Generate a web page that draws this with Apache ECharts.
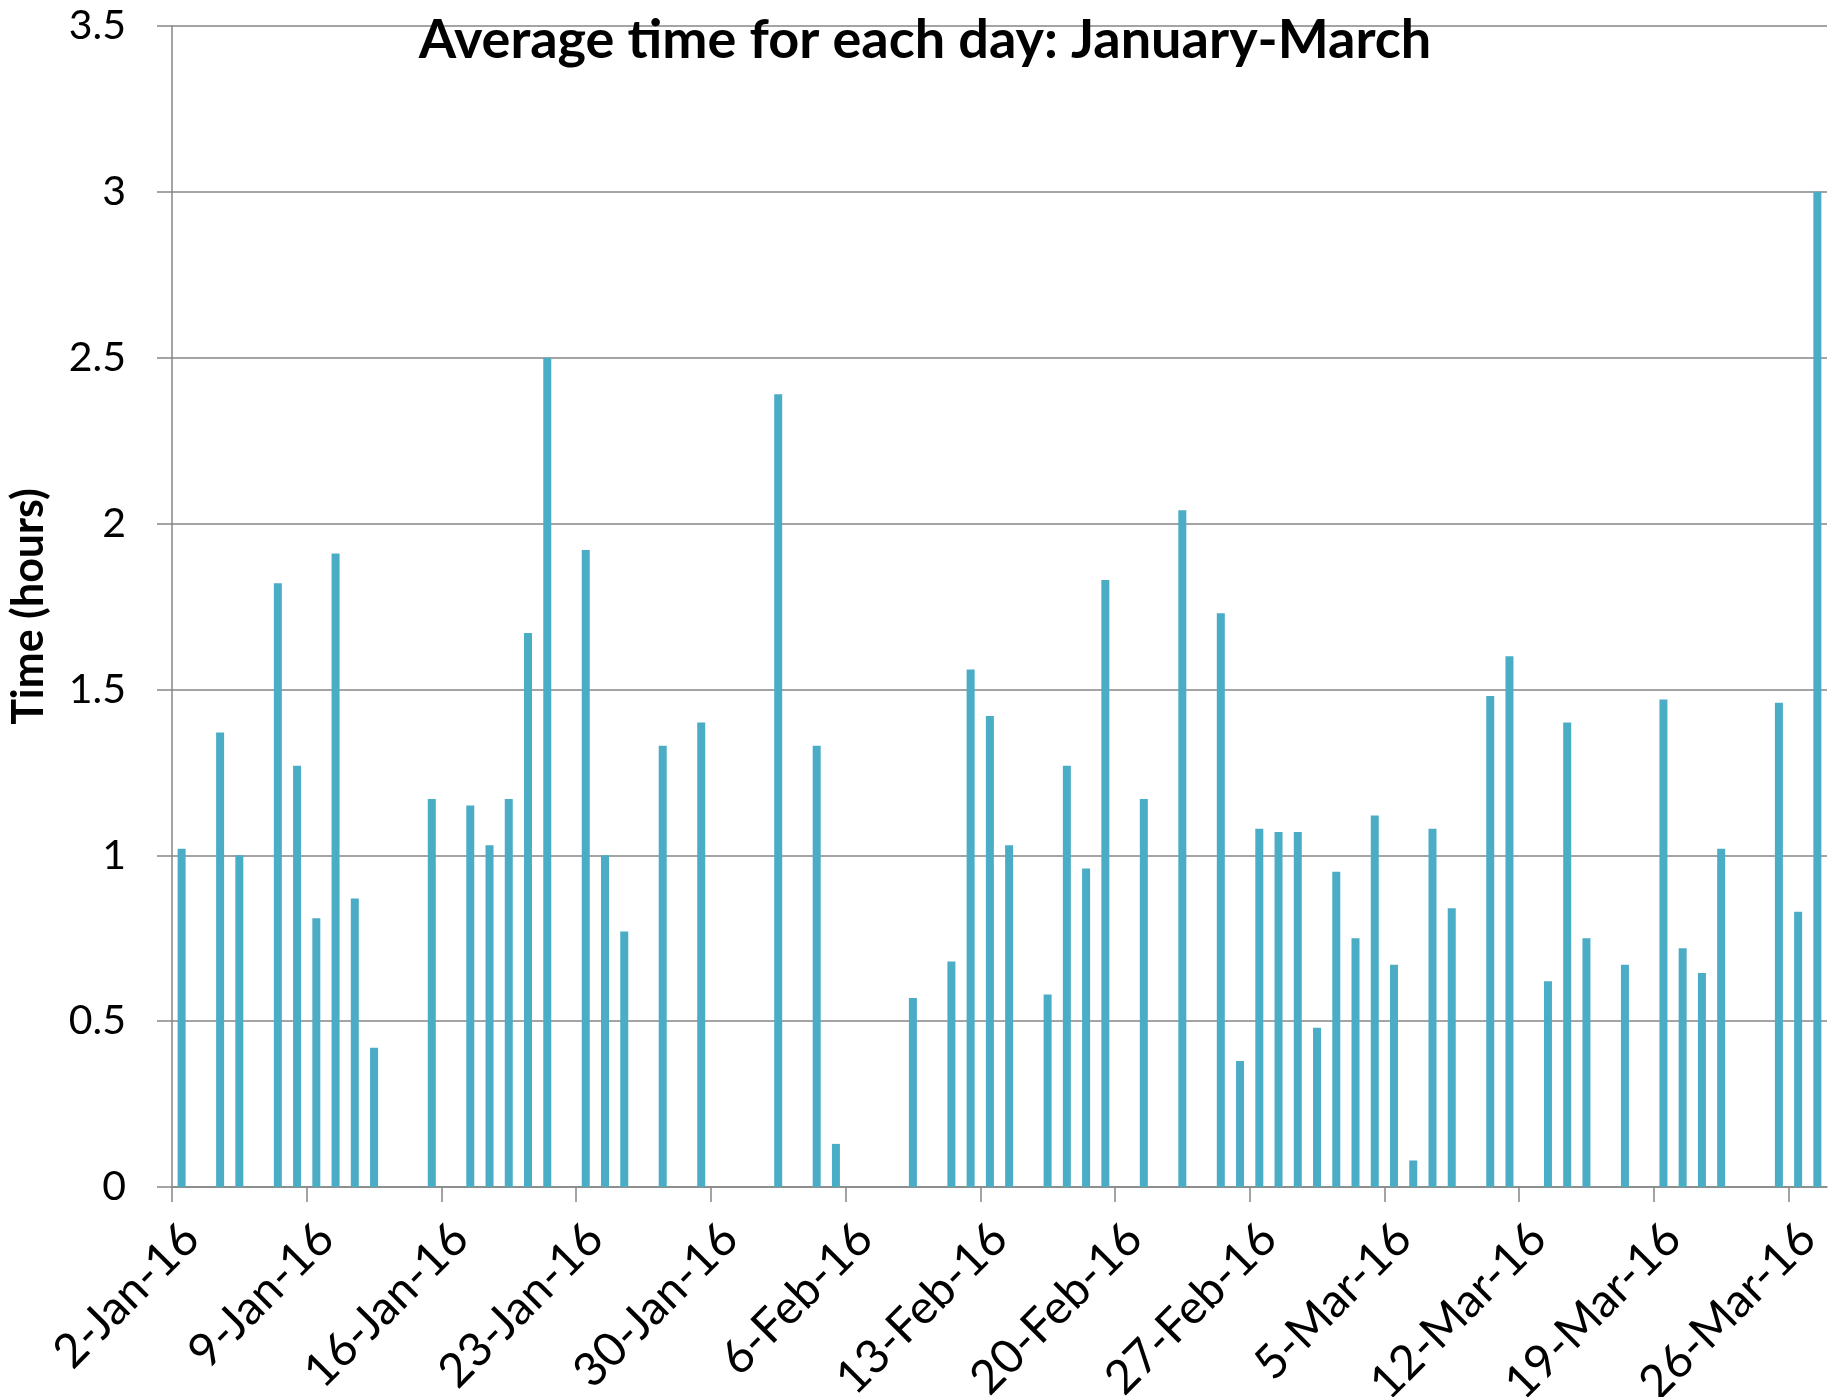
<!DOCTYPE html>
<html><head><meta charset="utf-8">
<script src="https://cdn.jsdelivr.net/npm/echarts@6/dist/echarts.min.js"></script>
<style>html,body{margin:0;padding:0;background:#fff}#c{width:1845px;height:1397px}</style>
</head><body><div id="c"></div>
<script>
const titleText = 'Average time for each day: January-March';
const yAxisName = 'Time (hours)';
const axisStart = '2-Jan-16';
const axisEnd = '28-Mar-16';
const dates = ['2-Jan-16','4-Jan-16','5-Jan-16','7-Jan-16','8-Jan-16','9-Jan-16','10-Jan-16','11-Jan-16','12-Jan-16',
  '15-Jan-16','17-Jan-16','18-Jan-16','19-Jan-16','20-Jan-16','21-Jan-16','23-Jan-16','24-Jan-16','25-Jan-16',
  '27-Jan-16','29-Jan-16','2-Feb-16','4-Feb-16','5-Feb-16','9-Feb-16','11-Feb-16','12-Feb-16','13-Feb-16','14-Feb-16',
  '16-Feb-16','17-Feb-16','18-Feb-16','19-Feb-16','21-Feb-16','23-Feb-16','25-Feb-16','26-Feb-16','27-Feb-16','28-Feb-16',
  '29-Feb-16','1-Mar-16','2-Mar-16','3-Mar-16','4-Mar-16','5-Mar-16','6-Mar-16','7-Mar-16','8-Mar-16','10-Mar-16',
  '11-Mar-16','13-Mar-16','14-Mar-16','15-Mar-16','17-Mar-16','19-Mar-16','20-Mar-16','21-Mar-16','22-Mar-16',
  '25-Mar-16','26-Mar-16','27-Mar-16'];
const hours = [1.02,1.37,1.00,1.82,1.27,0.81,1.91,0.87,0.42,
  1.17,1.15,1.03,1.17,1.67,2.50,1.92,1.00,0.77,
  1.33,1.40,2.39,1.33,0.13,0.57,0.68,1.56,1.42,1.03,
  0.58,1.27,0.96,1.83,1.17,2.04,1.73,0.38,1.08,1.07,
  1.07,0.48,0.95,0.75,1.12,0.67,0.08,1.08,0.84,1.48,
  1.60,0.62,1.40,0.75,0.67,1.47,0.72,0.645,1.02,
  1.46,0.83,3.00];
const tickLabels = ['2-Jan-16','9-Jan-16','16-Jan-16','23-Jan-16','30-Jan-16','6-Feb-16','13-Feb-16',
  '20-Feb-16','27-Feb-16','5-Mar-16','12-Mar-16','19-Mar-16','26-Mar-16'];

const MONTHS = {Jan:0,Feb:1,Mar:2,Apr:3,May:4,Jun:5,Jul:6,Aug:7,Sep:8,Oct:9,Nov:10,Dec:11};
function parseDate(s){ const p = s.split('-'); return Date.UTC(2000 + Number(p[2]), MONTHS[p[1]], Number(p[0])); }
const t0 = parseDate(axisStart);
function dayIdx(s){ return Math.round((parseDate(s) - t0) / 86400000); }
const span = dayIdx(axisEnd);
const tickPos = tickLabels.map(dayIdx);
const labelByPos = {}; tickLabels.forEach((l,i)=>{ labelByPos[tickPos[i]] = l; });
const barData = dates.map((d,i)=>[dayIdx(d) + 0.5, hours[i]]);

const LABEL_SHIFT = 1.0; // days: horizontal offset of the rotated date labels
const gridCol = '#868686';
const chart = echarts.init(document.getElementById('c'));
chart.setOption({
  animation: false,
  backgroundColor: '#fff',
  title: {
    text: titleText, left: 925, top: 14, textAlign: 'center', padding: 0,
    textStyle: {fontFamily: 'Lato', fontWeight: 'bold', fontSize: 54, color: '#000'}
  },
  grid: {left: 172, right: 18, top: 26, bottom: 210, containLabel: false, outerBoundsMode: 'none'},
  xAxis: [{
    type: 'value', min: 0, max: span,
    axisLine: {show: true, lineStyle: {color: gridCol, width: 1.5}},
    axisTick: {show: true, length: 15, customValues: tickPos, lineStyle: {color: gridCol, width: 1.5}},
    axisLabel: {show: false},
    splitLine: {show: false}
  }, {
    type: 'value', min: -LABEL_SHIFT, max: span - LABEL_SHIFT, position: 'bottom',
    axisLine: {show: false}, axisTick: {show: false}, splitLine: {show: false},
    axisLabel: {
      show: true, rotate: 45, margin: 44, customValues: tickPos,
      formatter: v => labelByPos[Math.round(v)] || '',
      fontFamily: 'Lato', fontSize: 47, color: '#000'
    }
  }],
  yAxis: {
    type: 'value', min: 0, max: 3.5, interval: 0.5,
    name: yAxisName, nameLocation: 'middle', nameRotate: 90, nameGap: 121,
    nameTextStyle: {fontFamily: 'Lato', fontWeight: 'bold', fontSize: 43, color: '#000'},
    axisLine: {show: true, lineStyle: {color: gridCol, width: 1.5}},
    axisTick: {show: true, length: 15, lineStyle: {color: gridCol, width: 1.5}},
    axisLabel: {margin: 46, fontFamily: 'Lato', fontSize: 41, color: '#000'},
    splitLine: {show: true, lineStyle: {color: gridCol, width: 1.5}}
  },
  series: [{
    type: 'bar', xAxisIndex: 0, yAxisIndex: 0, data: barData, barWidth: 8,
    itemStyle: {color: '#4BACC6'}
  }]
});
</script></body></html>
